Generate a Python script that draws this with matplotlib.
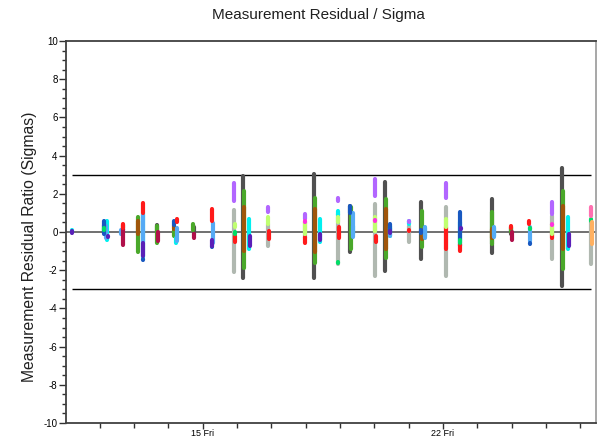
import matplotlib
matplotlib.use("Agg")
import matplotlib.pyplot as plt
from matplotlib.ticker import MultipleLocator, FixedLocator

plt.rcParams['font.family'] = ['Liberation Sans', 'DejaVu Sans']
plt.rcParams['axes.unicode_minus'] = False

# ---- data: per series, pass time (day of month), min and max residual ratio ----
light_gray_x  = [15.90, 16.90, 17.98, 18.94, 20.02, 21.00, 22.08, 25.17, 26.30]
light_gray_lo = [-2.10, -0.71, -0.30, -1.67, -2.28, -0.54, -2.28, -1.41, -1.67]
light_gray_hi = [1.15, 0.42, 0.50, 0.94, 1.46, 0.33, 1.29, 0.85, 0.60]

dark_gray_x  = [12.68, 13.67, 14.76, 16.17, 18.24, 19.29, 20.31, 21.36, 23.42, 23.99, 25.47]
dark_gray_lo = [0.10, 0.05, -0.10, -2.40, -2.42, -1.05, -2.02, -1.41, -1.11, -0.10, -2.82]
dark_gray_hi = [0.35, 0.35, 0.25, 2.95, 3.05, 1.38, 2.62, 1.55, 1.73, 0.20, 3.33]

green_x  = [12.13, 13.12, 13.67, 14.16, 14.72, 16.19, 18.26, 19.31, 20.33, 21.38, 23.44, 23.99, 25.49]
green_lo = [0.00, -1.05, -0.55, -0.20, 0.10, -1.90, -1.62, -0.89, -1.35, -0.80, -0.62, 0.00, -1.93]
green_hi = [0.35, 0.80, 0.30, 0.10, 0.40, 2.16, 1.78, 1.29, 1.71, 1.12, 1.05, 0.28, 2.16]

brown_x  = [13.12, 14.16, 16.19, 18.26, 20.33, 21.38, 23.44, 25.49]
brown_lo = [-0.10, 0.15, -0.98, -1.06, -0.90, -0.35, -0.30, -0.89]
brown_hi = [0.60, 0.35, 1.29, 1.20, 1.20, 0.10, 0.15, 1.38]

maroon_x  = [12.68, 13.70, 14.76, 24.00]
maroon_lo = [-0.70, -0.45, -0.30, -0.40]
maroon_hi = [0.15, 0.00, -0.10, 0.00]

cyan_x  = [11.19, 12.21, 13.25, 14.22, 16.35, 18.42, 18.94, 19.38, 20.46, 21.00, 21.47, 22.49, 23.49, 25.64]
cyan_lo = [0.00, -0.40, -1.30, -0.60, -0.89, -0.50, 0.90, -0.10, -0.20, 0.42, -0.20, -0.40, -0.20, -0.89]
cyan_hi = [0.08, 0.60, 1.00, -0.30, 0.67, 0.67, 1.10, 0.30, 0.30, 0.60, 0.20, 0.50, 0.20, 0.77]

light_blue_x  = [12.18, 12.63, 13.27, 14.25, 15.30, 19.38, 20.46, 21.47, 23.49, 24.53]
light_blue_lo = [-0.30, -0.10, -0.50, -0.45, -0.60, -0.28, -0.20, -0.31, -0.28, -0.45]
light_blue_hi = [0.30, 0.10, 0.90, 0.20, 0.46, 1.00, 0.20, 0.28, 0.28, 0.28]

dark_blue_x  = [12.13, 13.27, 14.16, 15.27, 19.29, 20.46, 21.36, 22.49, 24.53]
dark_blue_lo = [-0.10, -1.45, 0.35, -0.80, 1.00, 0.00, -0.05, -0.71, -0.62]
dark_blue_hi = [0.60, -1.40, 0.60, -0.75, 1.38, 0.42, 0.10, 1.03, -0.60]

red_x  = [12.68, 13.26, 14.25, 15.27, 15.93, 16.93, 17.99, 18.97, 19.41, 20.05, 21.02, 22.08, 22.49, 23.99, 24.51, 25.17]
red_lo = [0.20, 1.00, 0.50, 0.60, -0.50, -0.36, -0.60, -0.32, 0.30, -0.54, 0.05, -0.89, -1.00, 0.20, 0.40, -0.33]
red_hi = [0.42, 1.50, 0.70, 1.20, -0.20, 0.07, -0.28, 0.24, 0.33, -0.19, 0.10, 0.28, -0.63, 0.30, 0.60, -0.06]

purple_x  = [11.19, 12.25, 13.27, 15.27, 16.38, 18.42, 20.46, 22.52, 25.66]
purple_lo = [-0.05, -0.25, -1.25, -0.75, -0.71, -0.40, -0.05, 0.15, -0.71]
purple_hi = [0.05, -0.20, -0.60, -0.40, -0.19, -0.10, 0.05, 0.19, -0.10]

lavender_x  = [15.90, 16.90, 17.98, 18.94, 20.02, 21.00, 22.08, 25.17]
lavender_lo = [1.64, 1.03, 0.68, 1.64, 1.90, 0.50, 1.80, 0.94]
lavender_hi = [2.55, 1.32, 0.94, 1.80, 2.77, 0.55, 2.55, 1.55]

yellow_green_x  = [15.93, 16.90, 17.99, 18.94, 20.02, 22.08, 25.17]
yellow_green_lo = [0.25, 0.42, -0.10, 0.50, 0.07, 0.28, -0.10]
yellow_green_hi = [0.40, 0.77, 0.50, 0.77, 0.77, 0.68, 0.40]

magenta_x  = [15.93, 17.99, 20.02, 25.17]
magenta_lo = [0.08, 0.54, 0.58, 0.36]
magenta_hi = [0.12, 0.58, 0.62, 0.40]

spring_x  = [12.13, 15.95, 18.94, 22.49, 24.53, 26.32]
spring_lo = [0.10, -0.10, -1.62, -0.60, 0.15, 0.56]
spring_hi = [0.20, 0.00, -1.58, -0.40, 0.20, 0.68]

pink_x, pink_lo, pink_hi = [26.30], [0.85], [1.29]
orange_x, orange_lo, orange_hi = [26.35], [-0.63], [0.50]

series = [
    (light_gray_x, light_gray_lo, light_gray_hi, '#b0b8b0'),
    (dark_gray_x, dark_gray_lo, dark_gray_hi, '#505050'),
    (green_x, green_lo, green_hi, '#4aa82a'),
    (brown_x, brown_lo, brown_hi, '#a0560a'),
    (cyan_x, cyan_lo, cyan_hi, '#00f0f0'),
    (light_blue_x, light_blue_lo, light_blue_hi, '#55aaf5'),
    (dark_blue_x, dark_blue_lo, dark_blue_hi, '#1858c0'),
    (maroon_x, maroon_lo, maroon_hi, '#b0104a'),
    (red_x, red_lo, red_hi, '#ff1a1a'),
    (purple_x, purple_lo, purple_hi, '#5a20b8'),
    (lavender_x, lavender_lo, lavender_hi, '#b266ff'),
    (yellow_green_x, yellow_green_lo, yellow_green_hi, '#c0ff70'),
    (magenta_x, magenta_lo, magenta_hi, '#ff30e0'),
    (spring_x, spring_lo, spring_hi, '#00dd66'),
    (pink_x, pink_lo, pink_hi, '#ff70b0'),
    (orange_x, orange_lo, orange_hi, '#ffb060'),
]

major_days = [15, 22]
major_labels = ['15 Fri', '22 Fri']
minor_days = list(range(12, 27))

# ---- figure ----
fig = plt.figure(figsize=(5.97, 4.37), dpi=100)
ax = fig.add_axes([66 / 597, 14 / 437, 530 / 597, 382 / 437])

ax.set_xlim(11.018, 26.457)
ax.set_ylim(-10, 10)

ax.axhline(0, color='#707070', lw=1.4, zorder=1)
ax.hlines([3, -3], 11.19, 26.31, color='black', lw=1.0, zorder=1)

for i, (xs, lo, hi, c) in enumerate(series):
    ax.vlines(xs, lo, hi, colors=c, lw=3.0, capstyle='round', zorder=2 + i * 0.1)

ax.yaxis.set_major_locator(MultipleLocator(2))
ax.yaxis.set_minor_locator(MultipleLocator(0.5))
ax.xaxis.set_major_locator(FixedLocator(major_days))
ax.set_xticklabels(major_labels)
ax.xaxis.set_minor_locator(FixedLocator([d for d in minor_days if d not in major_days]))

ax.tick_params(axis='y', which='major', length=5, width=1, labelsize=7, pad=1, color='#303030')
ax.tick_params(axis='y', which='minor', length=3, width=1, color='#303030')
ax.tick_params(axis='x', which='major', length=4, width=1, labelsize=6.5, pad=0.5, color='#303030')
ax.tick_params(axis='x', which='minor', length=3.5, width=1, color='#303030')

for s in ['left', 'bottom', 'top']:
    ax.spines[s].set_color('#404040')
    ax.spines[s].set_linewidth(1.3)
ax.spines['right'].set_color('#a0a0a0')
ax.spines['right'].set_linewidth(1.3)

fig.text(318 / 597, 1 - 15 / 437, 'Measurement Residual / Sigma', ha='center', va='center',
         fontsize=11, color='#202020')
fig.text(30 / 597, 1 - 247 / 437, 'Measurement Residual Ratio (Sigmas)', ha='center', va='center',
         rotation=90, fontsize=11.3, color='#202020')

fig.savefig('out.png', dpi=100)
